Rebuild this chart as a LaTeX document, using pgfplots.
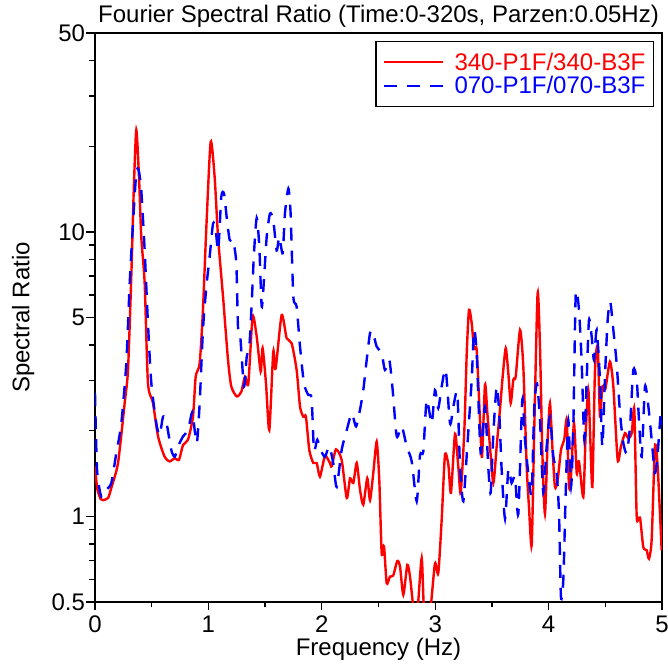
\documentclass[border=0pt]{standalone}
\usepackage{fontspec}
\setmainfont{Liberation Sans}
\usepackage{pgfplots}
\pgfplotsset{compat=1.18}
\begin{document}
\begin{tikzpicture}
\begin{axis}[
  at={(0,0)}, anchor=south west,
  scale only axis, width=567bp, height=569bp,
  xmin=0, xmax=5, ymin=0.5, ymax=50, ymode=log,
  axis line style={line width=1.8bp},
  tick align=outside, xtick pos=bottom, ytick pos=left,
  major tick length=8.5bp, minor tick length=5.5bp,
  every tick/.style={black, line width=1.3bp},
  xtick={0,1,2,3,4,5}, xticklabels={0,1,2,3,4,5},
  minor xtick={0.5,1.5,2.5,3.5,4.5},
  ytick={0.5,1,5,10,50}, yticklabels={0.5,1,5,10,50},
  minor ytick={0.6,0.7,0.8,0.9,2,3,4,6,7,8,9,20,30,40},
  /pgf/number format/assume math mode=true,
  ticklabel style={font=\fontsize{24bp}{28bp}\selectfont},
  xticklabel style={yshift=-2bp},
  yticklabel style={xshift=2bp},
  title={Fourier Spectral Ratio (Time:0-320s, Parzen:0.05Hz)},
  title style={at={(0.5,1)}, anchor=base, yshift=5bp, inner sep=0pt, font=\fontsize{24bp}{28bp}\selectfont},
  xlabel={Frequency (Hz)},
  xlabel style={at={(0.5,0)}, anchor=base, yshift=-53bp, inner sep=0pt, font=\fontsize{24bp}{28bp}\selectfont},
  ylabel={Spectral Ratio},
  every axis y label/.style={at={([xshift=-65.5bp]axis description cs:0,0.5)}, rotate=90, anchor=base, inner sep=0pt, font=\fontsize{24bp}{28bp}\selectfont},
  legend style={at={(1,1)}, anchor=north east, xshift=-8bp, yshift=-8bp,
    draw=black, line width=1.4bp, inner xsep=7bp, inner ysep=10bp,
    font=\fontsize{24bp}{27bp}\selectfont, row sep=3bp, column sep=9bp,
    nodes={inner sep=1bp}},
  legend cell align=left,
  legend image code/.code={\draw[#1] (0bp,0bp) -- (59bp,0bp);},
]
\addplot[red, line width=2.4bp, smooth, tension=0.4] coordinates {
(0.0,1.50) (0.02,1.25) (0.05,1.15) (0.07,1.14) (0.115,1.16) (0.144,1.26) (0.203,1.54)
(0.262,2.51) (0.291,3.27) (0.32,6.96) (0.341,13.7) (0.364,22.8) (0.388,15.6) (0.408,9.6)
(0.438,6.6) (0.467,2.94) (0.511,2.51) (0.556,1.91) (0.614,1.62) (0.658,1.56) (0.703,1.60)
(0.741,1.58) (0.776,1.78) (0.82,1.86) (0.864,2.24) (0.888,3.10) (0.923,3.45) (0.952,5.32)
(0.982,10.4) (1.02,20.7) (1.055,15.6) (1.085,9.6) (1.129,5.92) (1.173,3.55) (1.202,2.86)
(1.25,2.64) (1.29,2.74) (1.323,3.10) (1.352,2.93) (1.39,5.03) (1.426,4.28) (1.461,3.23)
(1.478,3.90) (1.508,2.93) (1.537,2.01) (1.572,3.79) (1.593,3.31) (1.646,5.10) (1.69,4.23)
(1.734,4.06) (1.778,3.27) (1.808,2.43) (1.837,2.24) (1.86,2.24) (1.89,1.71) (1.925,1.54)
(1.955,1.54) (1.984,1.38) (2.028,1.63) (2.072,1.54) (2.087,1.50) (2.125,1.72) (2.175,1.58)
(2.22,1.16) (2.249,1.36) (2.278,1.31) (2.308,1.54) (2.337,1.24) (2.366,1.10) (2.401,1.36)
(2.425,1.14) (2.454,1.42) (2.484,1.83) (2.507,1.34) (2.528,0.742) (2.549,0.782) (2.572,0.582)
(2.601,0.614) (2.63,0.62) (2.666,0.697) (2.69,0.665) (2.719,0.53) (2.754,0.675) (2.778,0.614)
(2.807,0.48) (2.83,0.45) (2.85,0.5) (2.881,0.713) (2.90,0.48) (2.93,0.45) (2.96,0.48)
(2.998,0.684) (3.027,0.631) (3.057,0.97) (3.086,1.64) (3.116,1.52) (3.139,1.21) (3.175,1.95)
(3.204,1.49) (3.225,1.21) (3.257,2.01) (3.278,3.74) (3.298,5.32) (3.322,4.77) (3.342,3.90)
(3.366,3.84) (3.395,2.18) (3.413,1.62) (3.439,2.9) (3.46,2.30) (3.483,1.76) (3.513,1.31)
(3.542,1.76) (3.571,2.37) (3.595,3.10) (3.622,3.90) (3.645,3.18) (3.666,2.5) (3.689,3.02)
(3.71,3.10) (3.748,4.52) (3.777,3.36) (3.807,1.49) (3.827,1.08) (3.851,0.793) (3.874,2.07)
(3.903,6.08) (3.924,3.95) (3.945,1.67) (3.968,1.02) (3.992,1.86) (4.012,2.5) (4.033,1.76)
(4.056,1.27) (4.08,1.34) (4.109,1.71) (4.138,1.86) (4.16,2.18) (4.18,1.27) (4.197,1.38)
(4.224,2.12) (4.248,1.42) (4.268,1.56) (4.306,1.17) (4.327,1.96) (4.35,2.78) (4.365,2.01)
(4.386,1.27) (4.409,3.27) (4.433,3.95) (4.453,2.24) (4.474,2.86) (4.5,2.8) (4.541,3.50)
(4.571,2.86) (4.609,1.58) (4.638,1.76) (4.674,1.96) (4.703,1.88) (4.733,1.96) (4.756,2.37)
(4.777,1.0) (4.806,0.99) (4.835,0.78) (4.865,0.76) (4.885,0.71) (4.909,0.83) (4.938,1.76)
(4.962,1.49) (4.997,0.76)
};
\addlegendentry[text=red]{340-P1F/340-B3F}
\addplot[blue, line width=2.4bp, smooth, tension=0.4, dash pattern=on 13bp off 10bp] coordinates {
(0.0,2.71) (0.018,1.46) (0.056,1.17) (0.1,1.24) (0.144,1.31) (0.188,1.67) (0.232,2.12)
(0.276,3.45) (0.306,6.6) (0.335,10.7) (0.364,16.1) (0.385,16.5) (0.408,14.0) (0.438,8.6)
(0.467,4.77) (0.497,2.93) (0.541,2.12) (0.57,1.93) (0.6,2.24) (0.629,2.15) (0.673,1.71)
(0.703,1.62) (0.732,1.76) (0.776,1.91) (0.82,2.01) (0.858,2.33) (0.879,2.01) (0.899,1.81)
(0.923,2.5) (0.952,4.52) (0.982,6.41) (1.011,8.17) (1.041,10.7) (1.064,10.2) (1.087,8.6)
(1.114,13.3) (1.138,13.6) (1.164,11.0) (1.188,9.37) (1.217,9.37) (1.246,7.77) (1.261,4.64)
(1.279,4.4) (1.314,2.86) (1.338,3.64) (1.361,3.95) (1.382,5.61) (1.402,8.41) (1.426,11.2)
(1.449,8.87) (1.47,5.46) (1.49,6.78) (1.514,9.6) (1.543,11.6) (1.572,11.0) (1.602,8.6)
(1.625,9.6) (1.655,8.41) (1.675,11.6) (1.705,14.2) (1.725,11.6) (1.749,5.92) (1.778,5.46)
(1.808,3.95) (1.843,2.93) (1.881,2.67) (1.91,2.6) (1.931,1.71) (1.96,1.86) (1.99,1.71)
(2.028,1.62) (2.066,1.76) (2.101,1.54) (2.131,1.27) (2.175,1.71) (2.22,2.01) (2.264,2.30)
(2.302,2.07) (2.337,2.37) (2.366,2.78) (2.396,3.55) (2.425,4.4) (2.449,4.46) (2.484,3.95)
(2.528,3.74) (2.557,3.27) (2.595,3.55) (2.625,2.78) (2.661,1.91) (2.705,2.07) (2.749,1.76)
(2.793,1.56) (2.837,1.13) (2.866,1.64) (2.895,1.69) (2.925,2.57) (2.969,2.12) (2.998,2.78)
(3.027,2.4) (3.057,2.86) (3.093,3.27) (3.131,2.12) (3.16,2.43) (3.195,2.71) (3.219,1.49)
(3.248,1.13) (3.283,1.76) (3.322,3.02) (3.342,4.52) (3.366,3.74) (3.401,1.67) (3.439,2.43)
(3.468,1.49) (3.489,1.21) (3.513,1.96) (3.542,2.86) (3.565,2.30) (3.586,1.46) (3.616,0.98)
(3.645,1.46) (3.674,1.31) (3.704,1.38) (3.733,1.02) (3.768,2.57) (3.792,1.86) (3.827,1.34)
(3.851,1.21) (3.874,2.43) (3.898,2.93) (3.924,2.18) (3.953,1.21) (3.983,1.76) (4.012,2.24)
(4.042,1.62) (4.071,1.42) (4.092,1.02) (4.109,0.52) (4.13,0.6) (4.151,1.21) (4.174,2.18)
(4.198,1.27) (4.218,2.07) (4.239,6.0) (4.268,5.32) (4.292,3.45) (4.315,1.86) (4.336,3.02)
(4.356,4.9) (4.38,4.28) (4.4,3.55) (4.424,4.52) (4.453,3.02) (4.474,1.76) (4.497,3.10)
(4.521,4.9) (4.544,5.68) (4.571,4.52) (4.6,3.45) (4.63,2.30) (4.659,1.81) (4.689,1.67)
(4.718,2.07) (4.747,3.27) (4.777,3.02) (4.797,2.18) (4.821,1.62) (4.85,2.86) (4.88,2.43)
(4.909,1.86) (4.938,1.42) (4.962,1.67) (4.989,2.30) (5.0,2.1)
};
\addlegendentry[text=blue]{070-P1F/070-B3F}
\end{axis}
\pgfresetboundingbox
\path[use as bounding box] (-95bp,-66bp) rectangle (573bp,602bp);
\end{tikzpicture}
\end{document}
